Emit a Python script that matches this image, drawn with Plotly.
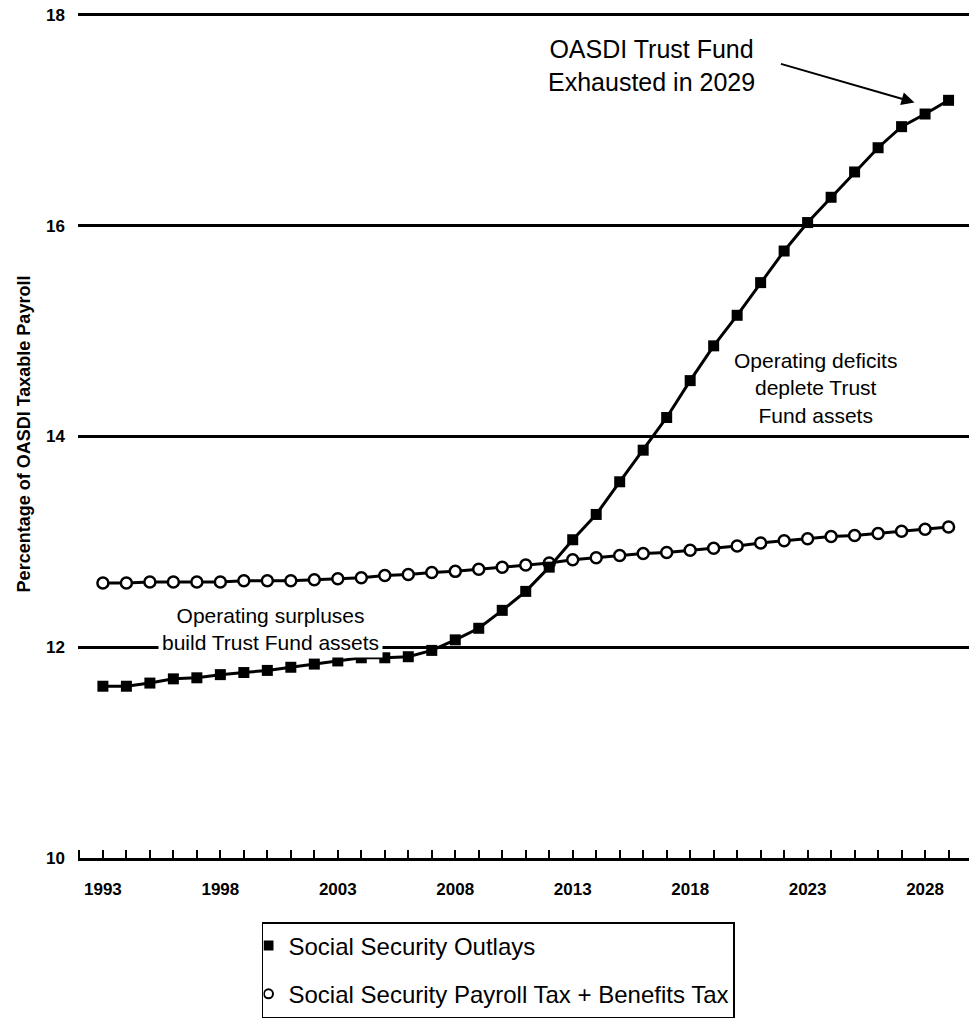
import plotly.graph_objects as go

# ---- data ----
years = list(range(1993, 2030))
outlays = [11.63, 11.63, 11.66, 11.70, 11.71, 11.74, 11.76, 11.78, 11.81, 11.84,
           11.87, 11.90, 11.90, 11.91, 11.97, 12.07, 12.18, 12.35, 12.53, 12.76,
           13.02, 13.26, 13.57, 13.87, 14.18, 14.53, 14.86, 15.15, 15.46, 15.76,
           16.03, 16.27, 16.51, 16.74, 16.94, 17.06, 17.19]
payroll_tax = [12.61, 12.61, 12.62, 12.62, 12.62, 12.62, 12.63, 12.63, 12.63, 12.64,
               12.65, 12.66, 12.68, 12.69, 12.71, 12.72, 12.74, 12.76, 12.78, 12.80,
               12.83, 12.85, 12.87, 12.89, 12.90, 12.92, 12.94, 12.96, 12.99, 13.01,
               13.03, 13.05, 13.06, 13.08, 13.10, 13.12, 13.14]
x_tick_years = [1993, 1998, 2003, 2008, 2013, 2018, 2023, 2028]
y_ticks = [10, 12, 14, 16, 18]
name_outlays = "Social Security Outlays"
name_tax = "Social Security Payroll Tax + Benefits Tax"

FONT = "Arial"

fig = go.Figure()

# main series
fig.add_trace(go.Scatter(
    x=years, y=payroll_tax, mode="lines+markers", showlegend=False,
    legendgroup="tax",
    line=dict(color="black", width=3),
    marker=dict(symbol="circle", size=11, color="white",
                line=dict(color="black", width=2.5)),
))
fig.add_trace(go.Scatter(
    x=years, y=outlays, mode="lines+markers", showlegend=False,
    legendgroup="out",
    line=dict(color="black", width=3),
    marker=dict(symbol="square", size=11, color="black"),
))

# legend entries (marker only, as in the reference)
fig.add_trace(go.Scatter(
    x=[None], y=[None], mode="markers", name=name_outlays, legendgroup="out",
    marker=dict(symbol="square", size=10, color="black"),
))
fig.add_trace(go.Scatter(
    x=[None], y=[None], mode="markers", name=name_tax, legendgroup="tax",
    marker=dict(symbol="circle", size=9, color="white",
                line=dict(color="black", width=2)),
))

ann_font = dict(family=FONT, size=21, color="black")
big_font = dict(family=FONT, size=25, color="black")

annotations = [
    dict(x=2016.36, y=17.52, text="OASDI Trust Fund<br>Exhausted in 2029",
         font=big_font),
    dict(x=2023.34, y=14.46, text="Operating deficits<br>deplete Trust<br>Fund assets",
         font=ann_font),
    dict(x=2000.12, y=12.17, text="Operating surpluses<br>build Trust Fund assets",
         font=ann_font, bgcolor="white", borderpad=3),
]
for a in annotations:
    fig.add_annotation(xref="x", yref="y", showarrow=False,
                       xanchor="center", yanchor="middle", **a)

# arrow pointing at the exhaustion point
fig.add_annotation(x=2027.55, y=17.17, ax=2021.8, ay=17.54,
                   xref="x", yref="y", axref="x", ayref="y",
                   text="", showarrow=True, arrowhead=2, arrowsize=1.3,
                   arrowwidth=2, arrowcolor="black")

fig.update_layout(
    width=969, height=1033,
    margin=dict(l=78, r=0, t=10, b=175),
    paper_bgcolor="white", plot_bgcolor="white",
    font=dict(family=FONT, color="black"),
    showlegend=True,
    legend=dict(
        x=0.2065, y=-0.0755, xanchor="left", yanchor="top",
        bordercolor="black", borderwidth=1.5, bgcolor="white",
        font=dict(family=FONT, size=24, color="black"),
        tracegroupgap=14, traceorder="grouped", indentation=-15,
        itemwidth=30,
    ),
    xaxis=dict(
        range=[1991.94, 2029.87],
        tickmode="array", tickvals=x_tick_years,
        ticktext=[str(v) for v in x_tick_years],
        ticks="inside", ticklen=8, tickwidth=1.5, tickcolor="black",
        minor=dict(dtick=1, tick0=1993, ticks="inside", ticklen=8,
                   tickwidth=1.5, tickcolor="black", showgrid=False),
        showgrid=False, zeroline=False,
        showline=True, linecolor="black", linewidth=2.5,
        tickfont=dict(family=FONT, size=17, color="black", weight="bold"),
        ticklabelstandoff=14,
    ),
    yaxis=dict(
        range=[10, 18.047],
        tickmode="array", tickvals=y_ticks,
        ticktext=[str(v) for v in y_ticks],
        showgrid=True, gridcolor="black", gridwidth=2.5,
        zeroline=False, showline=False, ticks="",
        tickfont=dict(family=FONT, size=17, color="black", weight="bold"),
        ticklabelstandoff=12,
        title=dict(text="Percentage of OASDI Taxable Payroll",
                   font=dict(family=FONT, size=18, color="black", weight="bold"),
                   standoff=10),
    ),
)

fig.write_html("out.html",
               config={"displayModeBar": False},
               post_script="document.body.style.margin='0';document.body.style.padding='0';")
